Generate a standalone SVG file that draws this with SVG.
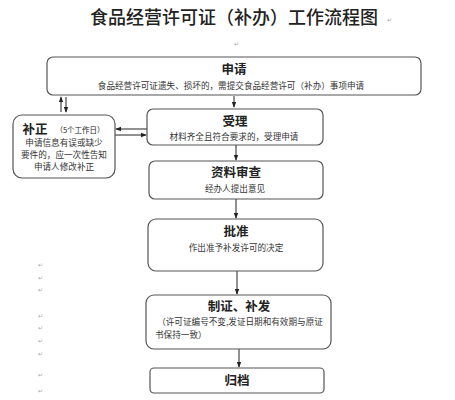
<svg xmlns="http://www.w3.org/2000/svg" width="455" height="400" viewBox="0 0 455 400">
<style>
.box{fill:#fff;stroke:#555;stroke-width:1.2}
.t{font-family:"Noto Sans CJK SC","Noto Sans CJK JP",sans-serif;fill:#222;text-anchor:middle}
.h{font-size:12.5px;font-weight:bold}
.s{font-size:8.6px;fill:#333}
.pm{font-family:"DejaVu Sans",sans-serif;font-size:6px;fill:#aaa}
.c{stroke:#222;stroke-width:1;fill:none}
</style>
<defs>
<marker id="ah" viewBox="0 0 8 8" refX="7" refY="4" markerWidth="6" markerHeight="6" orient="auto">
<path d="M0,1 L8,4 L0,7 z" fill="#222"/>
</marker>
</defs>
<rect width="455" height="400" fill="#fff"/>
<text class="t" x="234" y="24" style="font-size:18px;font-weight:500">食品经营许可证（补办）工作流程图</text>
<text class="pm" x="387" y="22">↵</text>
<text class="pm" x="234" y="46">↵</text>

<g id="connectors">
<line class="c" x1="234" y1="96" x2="234" y2="107" marker-end="url(#ah)"/>
<line class="c" x1="61" y1="112" x2="61" y2="97" marker-end="url(#ah)"/>
<line class="c" x1="66" y1="97" x2="66" y2="112" marker-end="url(#ah)"/>
<line class="c" x1="147" y1="129" x2="116" y2="129" marker-end="url(#ah)"/>
<line class="c" x1="115" y1="135" x2="146" y2="135" marker-end="url(#ah)"/>
<line class="c" x1="236" y1="145" x2="236" y2="160" marker-end="url(#ah)"/>
<line class="c" x1="236" y1="199" x2="236" y2="218" marker-end="url(#ah)"/>
<line class="c" x1="237" y1="271" x2="237" y2="294" marker-end="url(#ah)"/>
<line class="c" x1="239" y1="349" x2="239" y2="367" marker-end="url(#ah)"/>
</g>

<g id="n_shenqing">
<rect class="box" x="47" y="57" width="374" height="38" rx="6"/>
<text class="t h" x="234" y="74">申请</text>
<text class="t s" x="231" y="89">食品经营许可证遗失、损坏的，需提交食品经营许可（补办）事项申请</text>
</g>

<g id="n_buzheng">
<rect class="box" x="13" y="115" width="102" height="63" rx="9"/>
<text class="t h" x="35" y="134">补正</text>
<text class="t" x="80" y="133" style="font-size:7.5px">（5个工作日）</text>
<text class="t s" x="64" y="146">申请信息有误或缺少</text>
<text class="t s" x="64" y="158">要件的，应一次性告知</text>
<text class="t s" x="64" y="170">申请人修改补正</text>
</g>

<g id="n_shouli">
<rect class="box" x="147" y="109" width="176" height="36" rx="6"/>
<text class="t h" x="235" y="126">受理</text>
<text class="t s" x="234" y="140">材料齐全且符合要求的，受理申请</text>
</g>

<g id="n_shencha">
<rect class="box" x="149" y="161" width="174" height="38" rx="6"/>
<text class="t h" x="236" y="177">资料审查</text>
<text class="t s" x="235" y="192">经办人提出意见</text>
</g>

<g id="n_pizhun">
<rect class="box" x="148" y="219" width="175" height="52" rx="8"/>
<text class="t h" x="236" y="236">批准</text>
<text class="t s" x="236" y="251">作出准予补发许可的决定</text>
</g>

<g id="n_zhizheng">
<rect class="box" x="146" y="295" width="185" height="54" rx="8"/>
<text class="t h" x="239" y="311">制证、补发</text>
<text class="t s" x="240" y="325">（许可证编号不变,发证日期和有效期与原证</text>
<text class="t s" x="155" y="338" style="text-anchor:start">书保持一致）</text>
</g>

<g id="n_guidang">
<rect class="box" x="150" y="368" width="174" height="25" rx="4"/>
<text class="t h" x="237" y="385">归档</text>
</g>

<g id="marks">
<text class="pm" x="38" y="267">↵</text>
<text class="pm" x="38" y="280">↵</text>
<text class="pm" x="38" y="292">↵</text>
<text class="pm" x="38" y="318">↵</text>
<text class="pm" x="38" y="330">↵</text>
<text class="pm" x="38" y="343">↵</text>
<text class="pm" x="38" y="356">↵</text>
<text class="pm" x="38" y="377">↵</text>
<text class="pm" x="38" y="393">↵</text>
</g>
</svg>
